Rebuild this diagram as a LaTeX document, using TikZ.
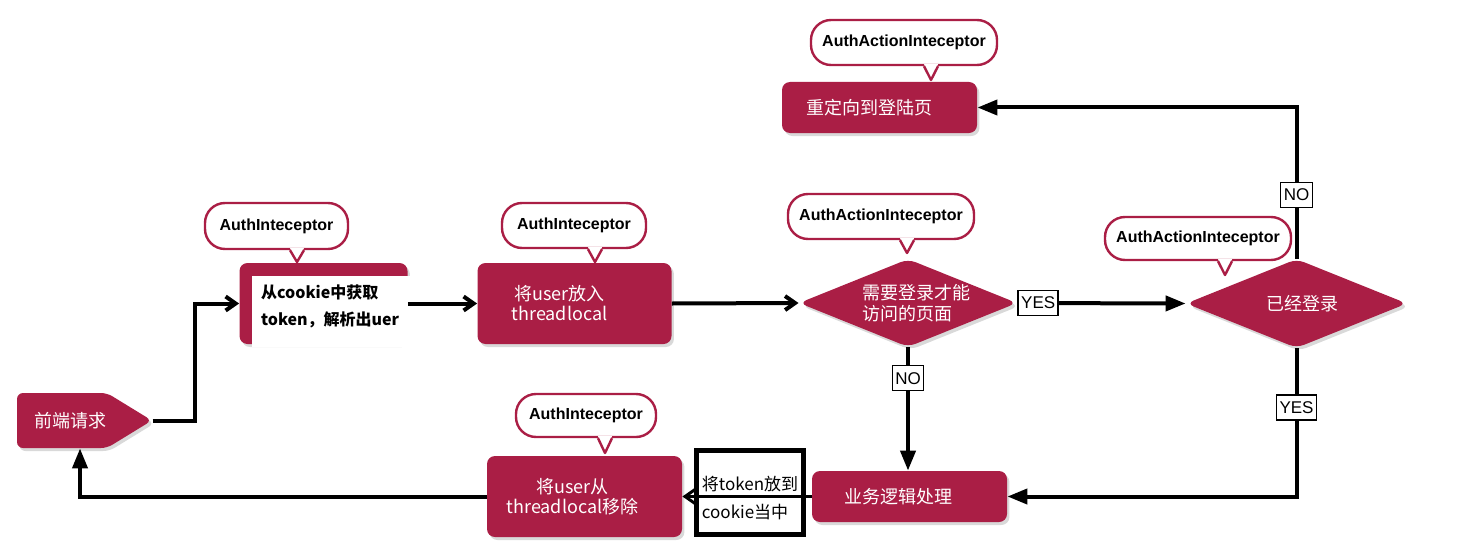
\documentclass[tikz,border=0pt]{standalone}
\usepackage{fontspec}
\setmainfont{Noto Sans CJK SC}
\setsansfont{Liberation Sans}
\usetikzlibrary{arrows.meta,shapes.geometric,shapes.symbols,shadows,calc}
\definecolor{crimson}{RGB}{170,30,69}
\begin{document}
\begin{tikzpicture}[x=0.5pt,y=-0.5pt,
  boxshadow/.style={drop shadow={shadow xshift=1.2pt,shadow yshift=-1.5pt,opacity=0.3}},
  box/.style={rectangle,rounded corners=4pt,fill=crimson,text=white,inner sep=0pt,
    align=center,font=\fontsize{9}{10}\selectfont,boxshadow},
  dia/.style={diamond,aspect=2.5,rounded corners=4pt,fill=crimson,text=white,inner sep=0pt,
    align=left,font=\fontsize{9}{10.5}\selectfont,boxshadow},
  front/.style={signal,signal to=east,signal pointer angle=63,rounded corners=3pt,
    fill=crimson,text=white,inner sep=0pt,text width=45pt,align=right,
    font=\fontsize{9}{10}\selectfont,boxshadow},
  tag/.style={draw=crimson,line width=1.2pt,fill=white,rounded corners=10pt,inner sep=0pt,
    font=\sffamily\bfseries\fontsize{8}{10}\selectfont},
  tagline/.style={draw=crimson,line width=1.2pt,line join=round},
  yesno/.style={draw=black,line width=0.7pt,fill=white,inner sep=1.5pt,minimum height=12.5pt,
    font=\sffamily\fontsize{8.5}{10}\selectfont},
  tokenbox/.style={draw=black,line width=2.5pt,fill=white,minimum width=50.5pt,minimum height=42pt,
    inner xsep=2.5pt,text height=26.5pt,align=left,font=\fontsize{8.5}{14}\selectfont},
  flow/.style={line width=2pt},
  shut/.style={-{Triangle[length=10pt,width=7.5pt]}},
  open/.style={-{Straight Barb[length=5pt,width=7pt]}}]

\useasboundingbox (0,0) rectangle (1481,551);

% boxes
\node[front, minimum height=27.5pt] (front) at (62,420.5) {前端请求};
\node[box, minimum width=84pt, minimum height=40.5pt] (box1) at (323.5,303.5) {};
\node[box, minimum width=97pt, minimum height=40.5pt] (box2) at (574.5,303.5) {将user放入\hspace*{15pt}\\threadlocal\hspace*{15pt}};
\node[box, minimum width=97.5pt, minimum height=25.5pt, text width=73.5pt, align=left] (redir) at (879.5,107.5) {重定向到登陆页};
\node[box, minimum width=97.5pt, minimum height=25.5pt] (biz) at (909.5,496.5) {业务逻辑处理\hspace*{11pt}};
\node[box, minimum width=97.5pt, minimum height=40.5pt] (remove) at (584.5,496.5) {将user从\hspace*{12pt}\\threadlocal移除\hspace*{12pt}};

\node[dia, minimum width=109pt, minimum height=44pt] (d1) at (908,303) {\hspace*{8pt}需要登录才能\\\hspace*{8pt}访问的页面};
\node[dia, minimum width=110.5pt, minimum height=44.5pt] (d2) at (1296.5,303.5) {\hspace*{6pt}已经登录};

% pasted text on the first box
\fill[white] (252,276) rectangle (410,347);
\node[anchor=west, align=left, font=\bfseries\fontsize{8}{13.5}\selectfont] (box1txt) at (254,306.5) {从cookie中获取\\token，解析出uer};

% callouts
\node[tag, minimum width=71.5pt, minimum height=23pt] (cA) at (276.5,226) {AuthInteceptor};
\node[tag, minimum width=72pt, minimum height=22.5pt] (cB) at (574,225.5) {AuthInteceptor};
\node[tag, minimum width=93pt, minimum height=22.5pt] (cC) at (881,216.5) {AuthActionInteceptor};
\node[tag, minimum width=93pt, minimum height=21.5pt] (cD) at (1198,238.5) {AuthActionInteceptor};
\node[tag, minimum width=93pt, minimum height=22.5pt] (cE) at (904,42.5) {AuthActionInteceptor};
\node[tag, minimum width=70pt, minimum height=21.5pt] (cF) at (586,415.5) {AuthInteceptor};

\coordinate (tA) at (297,262);
\coordinate (tB) at (595,262);
\coordinate (tC) at (907,253);
\coordinate (tD) at (1225,275);
\coordinate (tE) at (931,80);
\coordinate (tF) at (605,453);

\fill[white] ($(tA |- cA.south)+(-7,-2)$) -- (tA) -- ($(tA |- cA.south)+(7,-2)$) -- cycle;
\fill[white] ($(tB |- cB.south)+(-7,-2)$) -- (tB) -- ($(tB |- cB.south)+(7,-2)$) -- cycle;
\fill[white] ($(tC |- cC.south)+(-7,-2)$) -- (tC) -- ($(tC |- cC.south)+(7,-2)$) -- cycle;
\fill[white] ($(tD |- cD.south)+(-7,-2)$) -- (tD) -- ($(tD |- cD.south)+(7,-2)$) -- cycle;
\fill[white] ($(tE |- cE.south)+(-7,-2)$) -- (tE) -- ($(tE |- cE.south)+(7,-2)$) -- cycle;
\fill[white] ($(tF |- cF.south)+(-7,-2)$) -- (tF) -- ($(tF |- cF.south)+(7,-2)$) -- cycle;

\draw[tagline] ($(tA |- cA.south)+(-7,0)$) -- (tA) -- ($(tA |- cA.south)+(7,0)$);
\draw[tagline] ($(tB |- cB.south)+(-7,0)$) -- (tB) -- ($(tB |- cB.south)+(7,0)$);
\draw[tagline] ($(tC |- cC.south)+(-7,0)$) -- (tC) -- ($(tC |- cC.south)+(7,0)$);
\draw[tagline] ($(tD |- cD.south)+(-7,0)$) -- (tD) -- ($(tD |- cD.south)+(7,0)$);
\draw[tagline] ($(tE |- cE.south)+(-7,0)$) -- (tE) -- ($(tE |- cE.south)+(7,0)$);
\draw[tagline] ($(tF |- cF.south)+(-7,0)$) -- (tF) -- ($(tF |- cF.south)+(7,0)$);

% connectors
\draw[flow, open] (front.east) -- ++(42,0) |- (box1.west);
\draw[flow, open] (box1.east) -- (box2.west);
\draw[flow, open] (box2.east) -- (d1.west);
\draw[flow, shut] (d1.east) -- (d2.west) node[yesno, pos=0, anchor=west] {YES};
\draw[flow, shut] (d2.north) |- (redir.east) node[yesno, pos=0.21] {NO};
\draw[flow, shut] (d2.south) |- (biz.east) node[yesno, pos=0.2] {YES};
\draw[flow, shut] (d1.south) -- (d1.south |- biz.north) node[yesno, pos=0.25] {NO};

\node[tokenbox] (tok) at (750,492.5) {将token放到\\cookie当中};
\draw[line width=1.5pt, open] (biz.west) -- (remove.east);
\draw[flow, shut] (remove.west) -| ([xshift=9pt]front.south);

\end{tikzpicture}
\end{document}
